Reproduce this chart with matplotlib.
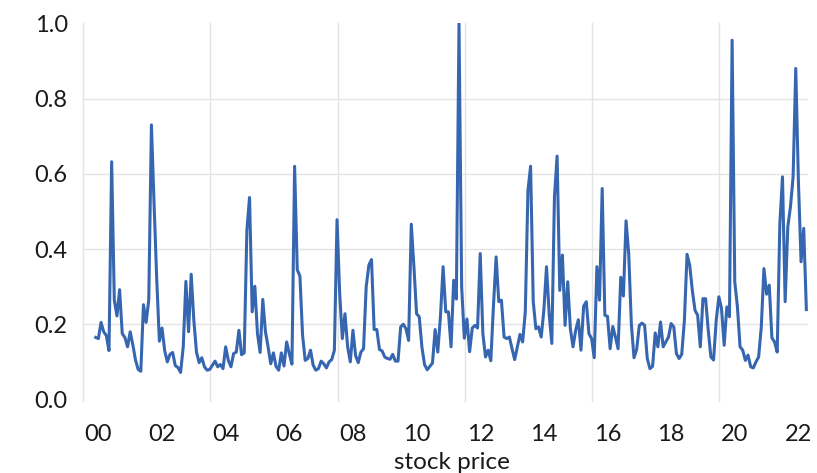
import numpy as np
import matplotlib
matplotlib.use('Agg')
import matplotlib.pyplot as plt

plt.rcParams['font.family'] = ['Lato', 'DejaVu Sans']

# monthly series, one value per month starting just before 2000
values = [
    0.165, 0.162, 0.205, 0.18, 0.17, 0.13, 0.632, 0.265, 0.222, 0.292,
    0.175, 0.165, 0.14, 0.18, 0.145, 0.105, 0.08, 0.075, 0.252, 0.205,
    0.265, 0.73, 0.52, 0.32, 0.155, 0.19, 0.13, 0.1, 0.12, 0.125,
    0.09, 0.085, 0.072, 0.14, 0.314, 0.18, 0.333, 0.21, 0.126, 0.098,
    0.111, 0.087, 0.078, 0.08, 0.091, 0.102, 0.087, 0.093, 0.082, 0.14,
    0.104, 0.087, 0.122, 0.126, 0.184, 0.119, 0.124, 0.45, 0.537, 0.233,
    0.301, 0.175, 0.125, 0.266, 0.18, 0.14, 0.095, 0.124, 0.088, 0.078,
    0.124, 0.089, 0.153, 0.122, 0.094, 0.62, 0.345, 0.328, 0.171, 0.104,
    0.109, 0.131, 0.091, 0.078, 0.082, 0.102, 0.095, 0.084, 0.1, 0.106,
    0.131, 0.478, 0.282, 0.162, 0.228, 0.14, 0.1, 0.184, 0.117, 0.098,
    0.126, 0.135, 0.3, 0.357, 0.372, 0.186, 0.186, 0.133, 0.129, 0.113,
    0.109, 0.107, 0.12, 0.102, 0.102, 0.193, 0.2, 0.188, 0.157, 0.466,
    0.353, 0.228, 0.22, 0.14, 0.093, 0.079, 0.088, 0.097, 0.186, 0.126,
    0.22, 0.353, 0.233, 0.233, 0.14, 0.317, 0.267, 1.0, 0.30, 0.163,
    0.214, 0.127, 0.19, 0.197, 0.19, 0.388, 0.175, 0.113, 0.131, 0.103,
    0.25, 0.379, 0.26, 0.264, 0.166, 0.162, 0.166, 0.135, 0.106, 0.14,
    0.173, 0.153, 0.233, 0.556, 0.62, 0.26, 0.188, 0.193, 0.166, 0.237,
    0.353, 0.228, 0.149, 0.54, 0.647, 0.29, 0.384, 0.197, 0.313, 0.188,
    0.14, 0.184, 0.212, 0.131, 0.248, 0.26, 0.175, 0.162, 0.111, 0.353,
    0.264, 0.561, 0.224, 0.221, 0.135, 0.194, 0.166, 0.135, 0.325, 0.275,
    0.475, 0.388, 0.2, 0.111, 0.133, 0.197, 0.203, 0.197, 0.109, 0.082,
    0.088, 0.177, 0.14, 0.206, 0.14, 0.153, 0.166, 0.202, 0.193, 0.122,
    0.109, 0.12, 0.21, 0.386, 0.357, 0.29, 0.237, 0.224, 0.14, 0.268,
    0.268, 0.184, 0.113, 0.105, 0.21, 0.273, 0.242, 0.144, 0.246, 0.22,
    0.955, 0.313, 0.246, 0.14, 0.131, 0.104, 0.118, 0.087, 0.084, 0.1,
    0.113, 0.193, 0.348, 0.28, 0.304, 0.164, 0.153, 0.126, 0.468, 0.592,
    0.26, 0.459, 0.512, 0.592, 0.88, 0.58, 0.366, 0.455, 0.239,
]
year_labels = ['00', '02', '04', '06', '08', '10', '12', '14', '16', '18', '20', '22']
y_ticks = [0.0, 0.2, 0.4, 0.6, 0.8, 1.0]

months = np.arange(len(values))
label_pos = 1 + 24 * np.arange(len(year_labels))
vgrid = -4.8 + 48 * np.arange(6)

fig = plt.figure(figsize=(8.17, 4.73), dpi=100)
ax = fig.add_axes([0.1016, 0.1554, 0.887, 0.7953])

for g in [0.2, 0.4, 0.6, 0.8]:
    ax.axhline(g, color='#e4e4e4', lw=1.0, zorder=1)
for g in vgrid:
    ax.axvline(g, ymin=-0.003, ymax=1, color='#e4e4e4', lw=1.0, zorder=1, clip_on=False)

ax.plot(months, values, color='#3766b1', lw=2.2, zorder=3, solid_joinstyle='round')

ax.set_xlim(-4.8, 268.5)
ax.set_ylim(0, 1)
ax.set_xticks(label_pos)
ax.set_xticklabels(year_labels)
ax.set_yticks(y_ticks)
ax.set_yticklabels([f'{v:.1f}' for v in y_ticks])
ax.tick_params(length=0, labelsize=17, colors='#1a1a1a')
ax.tick_params(axis='y', pad=11)
ax.tick_params(axis='x', pad=18)
for s in ax.spines.values():
    s.set_visible(False)
ax.set_xlabel('stock price', fontsize=17.5, color='#1a1a1a', labelpad=0)
ax.xaxis.set_label_coords(0.509, -0.14)

plt.savefig('out.png', dpi=100)
